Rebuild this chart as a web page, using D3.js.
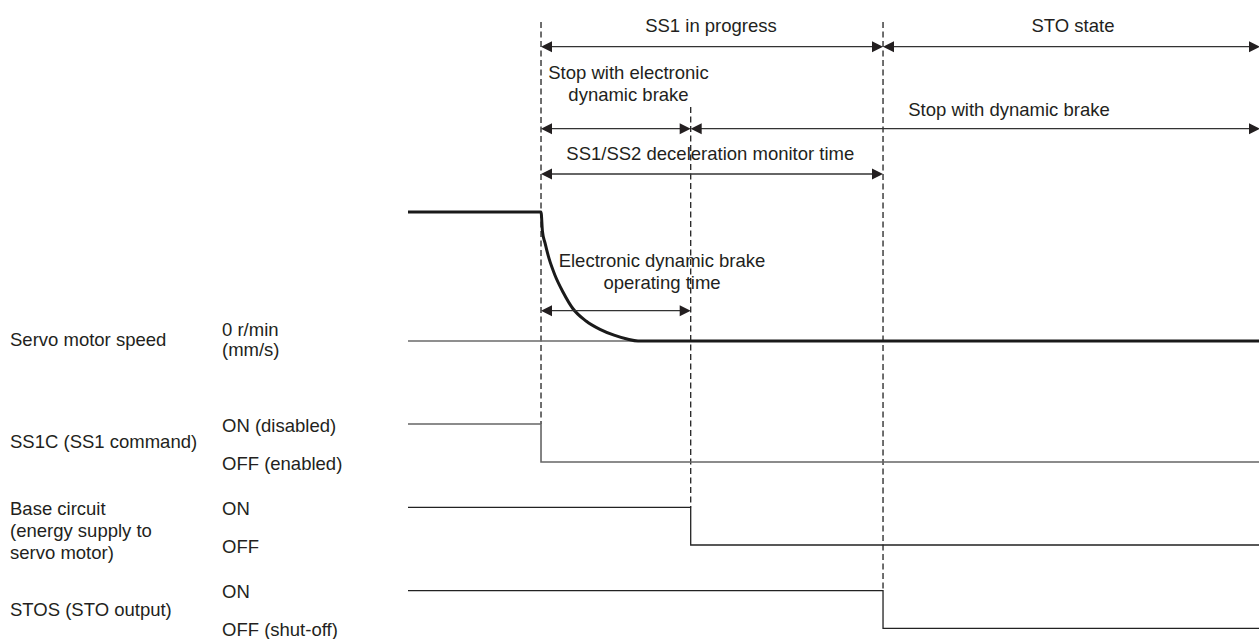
<!DOCTYPE html>
<html>
<head>
<meta charset="utf-8">
<script src="https://cdn.jsdelivr.net/npm/d3@7"></script>
<style>
  html, body { margin: 0; padding: 0; background: #fff; }
  svg text { font-family: "Liberation Sans", Arial, sans-serif; font-size: 18.5px; fill: #231f20; }
</style>
</head>
<body>
<svg id="chart" width="1259" height="639"></svg>
<script>
// ---------------- DATA ----------------
// time axis (arbitrary units), events
const timeDomain = [0, 10];
const eventNames = ["SS1 start", "EDB end", "STO start"];
const eventTimes = [1.563, 3.322, 5.582];

// servo motor speed (normalised, 1 = running speed, 0 = 0 r/min)
const speedTimes  = [0, 1.563, 1.580, 1.610, 1.657, 1.727, 1.821, 1.939, 2.092, 2.256, 2.421, 2.574, 2.703, 10];
const speedValues = [1, 1,     0.85,  0.76,  0.64,  0.51,  0.38,  0.25,  0.155, 0.09,  0.045, 0.015, 0,     0];

// logic signals (1 = ON / high, 0 = OFF / low)
const ss1cTimes  = [0, 1.563, 10];
const ss1cValues = [1, 0, 0];
const baseTimes  = [0, 3.322, 10];
const baseValues = [1, 0, 0];
const stosTimes  = [0, 5.582, 10];
const stosValues = [1, 0, 0];

// row labels
const rowNames = [
  ["Servo motor speed"],
  ["SS1C (SS1 command)"],
  ["Base circuit", "(energy supply to", "servo motor)"],
  ["STOS (STO output)"]
];
const highLabels = [["0 r/min", "(mm/s)"], ["ON (disabled)"], ["ON"], ["ON"]];
const lowLabels  = [[], ["OFF (enabled)"], ["OFF"], ["OFF (shut-off)"]];

// time spans (dimension arrows)
const spanLabels = [
  ["SS1 in progress"],
  ["STO state"],
  ["Stop with electronic", "dynamic brake"],
  ["Stop with dynamic brake"],
  ["SS1/SS2 deceleration monitor time"],
  ["Electronic dynamic brake", "operating time"]
];
const spanFrom = [1.563, 5.582, 1.563, 3.322, 1.563, 1.563];
const spanTo   = [5.582, 10,    3.322, 10,    5.582, 3.322];

// ---------------- LAYOUT ----------------
const W = 1259, H = 639;
const svg = d3.select("#chart");
const x = d3.scaleLinear().domain(timeDomain).range([408, 1259]);

const rowTop = [212, 424, 507.3, 590.7];      // y of the high level
const rowBottom = [341, 462, 545, 628.3];     // y of the low level
const yScales = rowTop.map((t, i) => d3.scaleLinear().domain([0, 1]).range([rowBottom[i], t]));

const spanY = [46.7, 46.7, 128.7, 128.7, 174, 310.7];
const spanTextX = [711, 1073, 628.5, 1009, 710.3, 662];
const spanTextY = [31.7, 31.7, 79, 115.7, 160, 266.7];
const lineGap = 21.8;

const guideTop = [22, 107, 22];
const guideBottomRow = [1, 2, 3];   // dashed guide goes down to the high level of this row

// ---------------- GUIDES ----------------
svg.append("g").selectAll("line")
  .data(eventTimes)
  .join("line")
  .attr("x1", d => x(d)).attr("x2", d => x(d))
  .attr("y1", (d, i) => guideTop[i])
  .attr("y2", (d, i) => rowTop[guideBottomRow[i]])
  .attr("stroke", "#222").attr("stroke-width", 1.3)
  .attr("stroke-dasharray", "6,3.5");

// ---------------- SPEED ----------------
const speedData = speedTimes.map((t, i) => [t, speedValues[i]]);
// zero baseline (thin)
svg.append("line")
  .attr("x1", x(timeDomain[0])).attr("x2", x(timeDomain[1]))
  .attr("y1", yScales[0](0)).attr("y2", yScales[0](0))
  .attr("stroke", "#6a6a6a").attr("stroke-width", 1.6);
svg.append("path")
  .datum(speedData)
  .attr("fill", "none").attr("stroke", "#1a1a1a").attr("stroke-width", 3)
  .attr("d", d3.line().x(d => x(d[0])).y(d => yScales[0](d[1])).curve(d3.curveMonotoneX));

// ---------------- SIGNALS ----------------
const signals = [
  { times: ss1cTimes, values: ss1cValues, row: 1, color: "#666", w: 1.6 },
  { times: baseTimes, values: baseValues, row: 2, color: "#222", w: 1.3 },
  { times: stosTimes, values: stosValues, row: 3, color: "#222", w: 1.3 }
];
signals.forEach(s => {
  const data = s.times.map((t, i) => [t, s.values[i]]);
  svg.append("path")
    .datum(data)
    .attr("fill", "none").attr("stroke", s.color).attr("stroke-width", s.w)
    .attr("d", d3.line().x(d => x(d[0])).y(d => yScales[s.row](d[1])).curve(d3.curveStepAfter));
});

// ---------------- SPAN ARROWS ----------------
const HL = 11, HW = 5.5;
function head(px, py, dir) {
  return `M${px},${py}L${px - dir * HL},${py - HW}L${px - dir * HL},${py + HW}Z`;
}
const spans = svg.append("g");
spanLabels.forEach((lab, i) => {
  const x1 = x(spanFrom[i]), x2 = x(spanTo[i]) + (spanTo[i] === timeDomain[1] ? 1 : 0), y = spanY[i];
  spans.append("line").attr("x1", x1 + 2).attr("x2", x2 - 2).attr("y1", y).attr("y2", y)
    .attr("stroke", "#333").attr("stroke-width", 1.3);
  spans.append("path").attr("d", head(x1, y, -1)).attr("fill", "#231f20");
  spans.append("path").attr("d", head(x2, y, 1)).attr("fill", "#231f20");
  const t = spans.append("text").attr("text-anchor", "middle");
  lab.forEach((s, k) => t.append("tspan").attr("x", spanTextX[i]).attr("y", spanTextY[i] + k * lineGap).text(s));
});

// ---------------- ROW LABELS ----------------
const nameY = [346, 448, 515, 616];
const highY = [336, 431.5, 515, 597.5];
const lowY  = [0, 470, 553, 636];
const labels = svg.append("g");
rowNames.forEach((lines, i) => {
  const t = labels.append("text");
  lines.forEach((s, k) => t.append("tspan").attr("x", 10).attr("y", nameY[i] + k * 22).text(s));
  const h = labels.append("text");
  highLabels[i].forEach((s, k) => h.append("tspan").attr("x", 222).attr("y", highY[i] + k * 20).text(s));
  if (lowLabels[i].length) {
    const l = labels.append("text");
    lowLabels[i].forEach((s, k) => l.append("tspan").attr("x", 222).attr("y", lowY[i] + k * 20).text(s));
  }
});
</script>
</body>
</html>
